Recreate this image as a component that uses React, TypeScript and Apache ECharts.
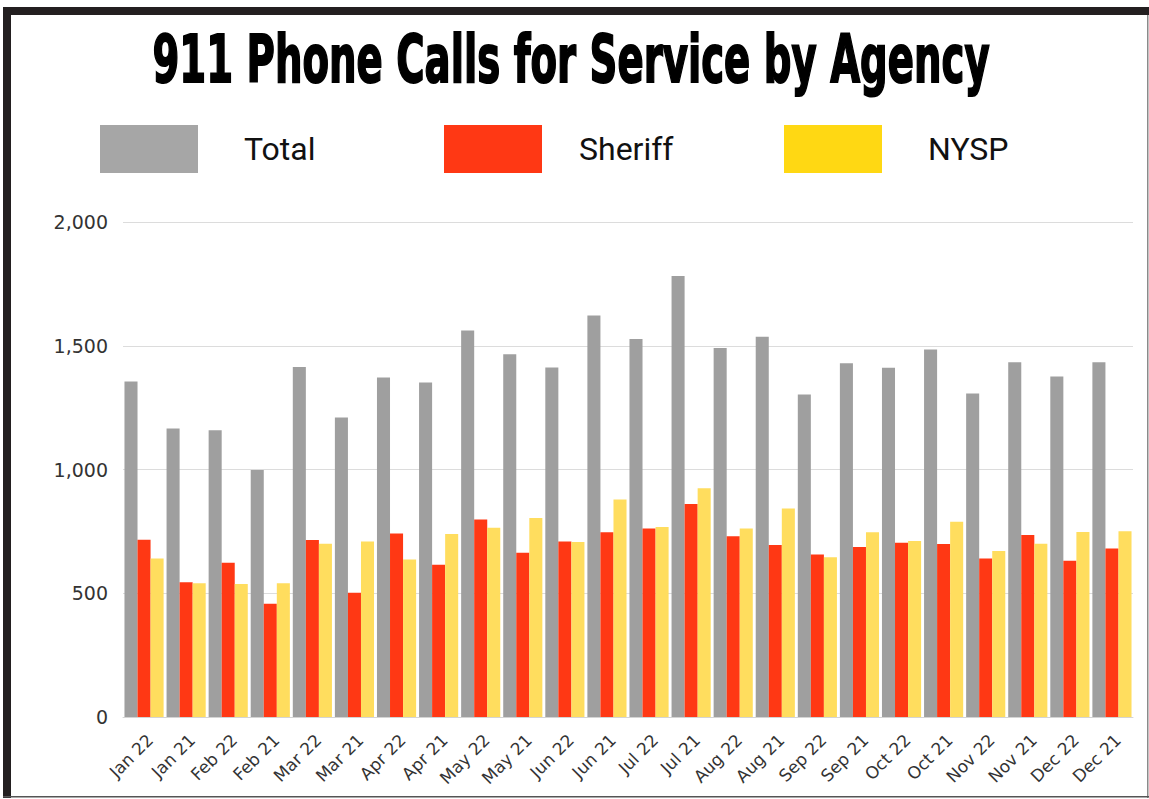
import React, { useEffect, useRef } from "react";
import * as echarts from "echarts";

const TITLE = "911 Phone Calls for Service by Agency";

const categories = [
  "Jan 22", "Jan 21", "Feb 22", "Feb 21", "Mar 22", "Mar 21", "Apr 22", "Apr 21",
  "May 22", "May 21", "Jun 22", "Jun 21", "Jul 22", "Jul 21", "Aug 22", "Aug 21",
  "Sep 22", "Sep 21", "Oct 22", "Oct 21", "Nov 22", "Nov 21", "Dec 22", "Dec 21",
];

const totalValues = [
  1356, 1166, 1159, 998, 1414, 1210, 1372, 1352,
  1562, 1466, 1412, 1622, 1527, 1782, 1491, 1536,
  1303, 1429, 1411, 1485, 1307, 1433, 1376, 1433,
];

const sheriffValues = [
  716, 544, 623, 458, 715, 502, 741, 615,
  798, 664, 709, 746, 762, 861, 730, 695,
  657, 687, 704, 699, 640, 735, 631, 681,
];

const nyspValues = [
  640, 540, 537, 540, 700, 709, 636, 739,
  765, 804, 707, 879, 768, 924, 762, 842,
  645, 746, 711, 789, 671, 700, 747, 751,
];

const yTicks = [0, 500, 1000, 1500, 2000];

export default function App() {
  const ref = useRef<HTMLDivElement>(null);

  useEffect(() => {
    if (!ref.current) return;
    const chart = echarts.init(ref.current, null, { renderer: "svg" });

    const titleFont = "bold 66px 'DejaVu Sans', sans-serif";
    let scaleX = 0.55;
    try {
      const ctx = document.createElement("canvas").getContext("2d");
      if (ctx) {
        ctx.font = titleFont;
        const w = ctx.measureText(TITLE).width;
        if (w > 0) scaleX = 838 / w;
      }
    } catch (e) {}

    const legendBase = {
      top: 120,
      itemWidth: 98,
      itemHeight: 48,
      icon: "rect",
      selectedMode: false,
      textStyle: {
        fontFamily: "Roboto, sans-serif",
        fontSize: 32,
        color: "#111",
      },
    };

    chart.setOption({
      animation: false,
      backgroundColor: "#fff",
      graphic: [
        { type: "rect", shape: { x: 3, y: 7, width: 1146, height: 8 }, style: { fill: "#231F20" } },
        { type: "rect", shape: { x: 3, y: 7, width: 8, height: 791 }, style: { fill: "#231F20" } },
        { type: "rect", shape: { x: 1147, y: 15, width: 1.5, height: 783 }, style: { fill: "#8a8a8a" } },
        { type: "rect", shape: { x: 3, y: 796, width: 1146, height: 1.5 }, style: { fill: "#555" } },
        {
          type: "text",
          x: 571,
          y: 59,
          scaleX: scaleX,
          scaleY: 1,
          style: {
            text: TITLE,
            x: 0,
            y: 0,
            font: titleFont,
            fill: "#000",
            stroke: "#000",
            lineWidth: 2,
            align: "center",
            verticalAlign: "middle",
          },
        },
      ],
      legend: [
        {
          ...legendBase,
          left: 95,
          data: [{ name: "Total", itemStyle: { color: "#A6A6A6" } }],
          textStyle: { ...legendBase.textStyle, padding: [0, 0, 0, 41] },
        },
        {
          ...legendBase,
          left: 439,
          data: [{ name: "Sheriff", itemStyle: { color: "#FF3814" } }],
          textStyle: { ...legendBase.textStyle, padding: [0, 0, 0, 32] },
        },
        {
          ...legendBase,
          left: 779,
          data: [{ name: "NYSP", itemStyle: { color: "#FFD813" } }],
          textStyle: { ...legendBase.textStyle, padding: [0, 0, 0, 41] },
        },
      ],
      grid: { left: 123, right: 16, top: 222, bottom: 82, containLabel: false },
      xAxis: {
        type: "category",
        data: categories,
        axisTick: { show: false },
        axisLine: { lineStyle: { color: "#d4d4d4", width: 1 } },
        axisLabel: {
          rotate: 45,
          interval: 0,
          margin: 14,
          verticalAlign: "top",
          fontFamily: "'DejaVu Sans', sans-serif",
          fontSize: 17,
          color: "#333",
        },
      },
      yAxis: {
        type: "value",
        min: yTicks[0],
        max: yTicks[yTicks.length - 1],
        interval: yTicks[1] - yTicks[0],
        axisLine: { show: false },
        axisTick: { show: false },
        splitLine: { lineStyle: { color: "#dcdcdc", width: 1 } },
        axisLabel: {
          margin: 15,
          fontFamily: "'DejaVu Sans', sans-serif",
          fontSize: 19,
          color: "#333",
          formatter: (v: number) => v.toLocaleString("en-US"),
        },
      },
      series: [
        {
          name: "Total",
          type: "bar",
          data: totalValues,
          barGap: "0%",
          barCategoryGap: "7%",
          itemStyle: { color: "#9F9F9F" },
        },
        {
          name: "Sheriff",
          type: "bar",
          data: sheriffValues,
          barGap: "0%",
          barCategoryGap: "7%",
          itemStyle: { color: "#FF3814" },
        },
        {
          name: "NYSP",
          type: "bar",
          data: nyspValues,
          barGap: "0%",
          barCategoryGap: "7%",
          itemStyle: { color: "#FFDD5E" },
        },
      ],
    });

    return () => chart.dispose();
  }, []);

  return (
    <div
      ref={ref}
      style={{ position: "fixed", left: 0, top: 0, width: 1149, height: 799 }}
    />
  );
}
